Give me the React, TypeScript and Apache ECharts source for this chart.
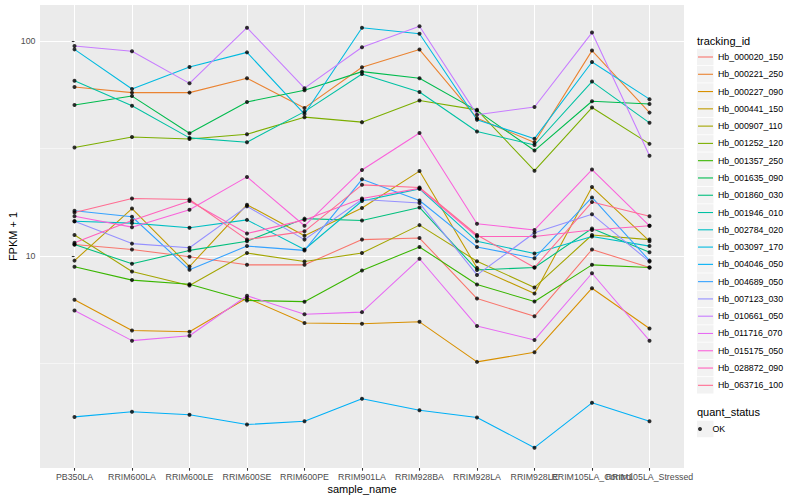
import React, { useEffect, useRef } from "react";
import * as echarts from "echarts";

const categories = [
  "PB350LA", "RRIM600LA", "RRIM600LE", "RRIM600SE", "RRIM600PE", "RRIM901LA",
  "RRIM928BA", "RRIM928LA", "RRIM928LE", "RRIM105LA_Control", "RRIM105LA_Stressed",
];

const trackingIds = [
  "Hb_000020_150", "Hb_000221_250", "Hb_000227_090", "Hb_000441_150", "Hb_000907_110",
  "Hb_001252_120", "Hb_001357_250", "Hb_001635_090", "Hb_001860_030", "Hb_001946_010",
  "Hb_002784_020", "Hb_003097_170", "Hb_004046_050", "Hb_004689_050", "Hb_007123_030",
  "Hb_010661_050", "Hb_011716_070", "Hb_015175_050", "Hb_028872_090", "Hb_063716_100",
];

const colors = [
  "#F8766D", "#EA8331", "#D89000", "#C09B00", "#A3A500", "#7CAE00", "#39B600", "#00BB4E",
  "#00BF7D", "#00C1A3", "#00BFC4", "#00BAE0", "#00B0F6", "#35A2FF", "#9590FF", "#C77CFF",
  "#E76BF3", "#FA62DB", "#FF62BC", "#FF6C91",
];

const Hb_000020_150 = [11.3, 10.7, 9.9, 9.08, 9.08, 11.9, 12.1, 6.33, 5.23, 10.7, 8.82];
const Hb_000221_250 = [61.1, 57.5, 57.5, 67.0, 48.8, 75.5, 91.2, 43.7, 33.7, 90.2, 46.4];
const Hb_000227_090 = [6.24, 4.49, 4.43, 6.37, 4.87, 4.83, 4.93, 3.21, 3.56, 7.07, 4.59];
const Hb_000441_150 = [9.5, 16.6, 8.92, 17.3, 12.4, 16.7, 24.8, 8.79, 6.68, 20.9, 11.7];
const Hb_000907_110 = [12.5, 8.46, 7.27, 10.3, 9.42, 10.3, 13.9, 9.44, 7.13, 12.5, 11.9];
const Hb_001252_120 = [31.9, 35.7, 35.0, 36.8, 44.2, 41.9, 52.8, 47.8, 24.9, 49.0, 33.2];
const Hb_001357_250 = [8.89, 7.71, 7.38, 6.2, 6.12, 8.55, 11.0, 7.35, 6.13, 9.08, 8.82];
const Hb_001635_090 = [50.4, 55.4, 37.2, 52.0, 59.0, 72.0, 67.0, 47.4, 30.9, 52.4, 50.9];
const Hb_001860_030 = [11.3, 9.18, 10.6, 11.7, 14.9, 14.6, 16.8, 8.6, 8.82, 13.4, 10.4];
const Hb_001946_010 = [65.3, 49.9, 35.4, 33.8, 46.9, 70.2, 57.9, 37.9, 32.8, 64.7, 41.6];
const Hb_002784_020 = [14.5, 14.2, 13.5, 14.7, 10.7, 18.0, 20.5, 11.7, 10.25, 12.3, 11.1];
const Hb_003097_170 = [91.4, 59.8, 75.7, 88.5, 45.7, 115.3, 108, 43.0, 35.1, 79.8, 53.6];
const Hb_004046_050 = [1.78, 1.88, 1.82, 1.64, 1.7, 2.16, 1.91, 1.77, 1.28, 2.07, 1.7];
const Hb_004689_050 = [16.2, 15.2, 8.61, 11.1, 10.6, 22.7, 18.1, 11.0, 9.75, 18.7, 9.5];
const Hb_007123_030 = [14.5, 11.4, 10.9, 17.0, 11.9, 18.3, 17.6, 8.15, 12.8, 15.6, 9.4];
const Hb_010661_050 = [94.8, 89.6, 63.5, 115.3, 60.3, 93.5, 117, 45.4, 49.3, 109.4, 29.2];
const Hb_011716_070 = [5.57, 4.03, 4.25, 6.52, 5.35, 5.47, 9.69, 4.71, 4.06, 8.3, 4.03];
const Hb_015175_050 = [15.3, 13.6, 16.4, 23.3, 13.8, 25.1, 37.3, 14.1, 13.2, 25.2, 13.8];
const Hb_028872_090 = [11.5, 14.6, 18.0, 12.7, 14.7, 18.5, 20.6, 12.3, 12.3, 13.2, 13.8];
const Hb_063716_100 = [15.9, 18.5, 18.3, 11.9, 13.0, 21.4, 20.8, 12.5, 8.82, 17.8, 15.3];

const seriesValues = [
  Hb_000020_150, Hb_000221_250, Hb_000227_090, Hb_000441_150, Hb_000907_110,
  Hb_001252_120, Hb_001357_250, Hb_001635_090, Hb_001860_030, Hb_001946_010,
  Hb_002784_020, Hb_003097_170, Hb_004046_050, Hb_004689_050, Hb_007123_030,
  Hb_010661_050, Hb_011716_070, Hb_015175_050, Hb_028872_090, Hb_063716_100,
];

const yMajorTicks = [10, 100];
const yMinorTicks = [3.1623, 31.623];
const quantStatus = ["OK"];

const FONT = "'Liberation Sans', Arial, Helvetica, sans-serif";

export default function App() {
  const ref = useRef<HTMLDivElement>(null);

  useEffect(() => {
    if (!ref.current) return;
    document.body.style.margin = "0";
    const chart = echarts.init(ref.current, null, { renderer: "svg" });
    const xTicks = categories.map((_, i) => i);
    // alternate label sets so that overlapping neighbour labels are both kept
    const xLabelsEven = xTicks.filter((i) => i % 2 === 0);
    const xLabelsOdd = xTicks.filter((i) => i % 2 === 1);
    const yMin = Math.pow(10, 0.0126);
    const yMax = Math.pow(10, 2.1674);

    const rowH = 17.28;
    const firstRow = 57;
    const keyRects: any[] = trackingIds.map((_, i) => ({
      type: "rect",
      shape: { x: 697, y: firstRow - rowH / 2 + i * rowH + 0.4, width: rowH - 0.8, height: rowH - 0.8 },
      style: { fill: "#F2F2F2" },
      z: 0,
    }));
    keyRects.push({
      type: "rect",
      shape: { x: 697, y: 429 - rowH / 2 + 0.4, width: rowH - 0.8, height: rowH - 0.8 },
      style: { fill: "#F2F2F2" },
      z: 0,
    });

    const lineSeries = trackingIds.map((name, k) => ({
      type: "line",
      name,
      xAxisIndex: 0,
      yAxisIndex: 0,
      data: seriesValues[k].map((v, i) => [i, v]),
      showSymbol: false,
      symbol: "none",
      lineStyle: { color: colors[k], width: 1.07 },
      itemStyle: { color: colors[k] },
      z: 2,
    }));

    const pointData: any[] = [];
    seriesValues.forEach((vals) => vals.forEach((v, i) => pointData.push([i, v])));

    const labelStyle = {
      formatter: (v: number) => categories[Math.round(v)] ?? "",
      fontSize: 8.8, color: "#4D4D4D", margin: 4.5, fontFamily: FONT,
      hideOverlap: false, showMinLabel: true, showMaxLabel: true,
    };

    chart.setOption({
      animation: false,
      grid: {
        left: 40, right: 116, top: 5, bottom: 32,
        show: true, backgroundColor: "#EBEBEB", borderWidth: 0,
        containLabel: false, outerBoundsMode: "none",
      },
      xAxis: [
        {
          type: "value",
          min: -0.6,
          max: 10.6,
          position: "bottom",
          name: "sample_name",
          nameLocation: "middle",
          nameGap: 15,
          nameMoveOverlap: false,
          nameTextStyle: { fontSize: 11, color: "#000", fontFamily: FONT },
          axisLine: { show: false },
          axisTick: { show: true, length: 2.7, customValues: xTicks, lineStyle: { color: "#333333", width: 1.07 } },
          axisLabel: { ...labelStyle, customValues: xLabelsEven },
          splitLine: { show: true, lineStyle: { color: "#FFFFFF", width: 1.07 } },
        },
        {
          type: "value",
          min: -0.6,
          max: 10.6,
          position: "bottom",
          offset: 0,
          axisLine: { show: false },
          axisTick: { show: false, customValues: xLabelsOdd },
          axisLabel: { ...labelStyle, customValues: xLabelsOdd },
          splitLine: { show: false },
        },
      ],
      yAxis: [
        {
          type: "log",
          logBase: 10,
          min: yMin,
          max: yMax,
          name: "FPKM + 1",
          nameLocation: "middle",
          nameGap: 22,
          nameMoveOverlap: false,
          nameTextStyle: { fontSize: 11, color: "#000", fontFamily: FONT },
          axisLine: { show: false },
          axisTick: { show: true, length: 2.7, customValues: yMajorTicks, lineStyle: { color: "#333333", width: 1.07 } },
          axisLabel: { customValues: yMajorTicks, fontSize: 8.8, color: "#4D4D4D", margin: 4.5, fontFamily: FONT, showMinLabel: true, showMaxLabel: true },
          splitLine: { show: true, lineStyle: { color: "#FFFFFF", width: 1.07 } },
        },
        {
          type: "log",
          logBase: 10,
          min: yMin,
          max: yMax,
          position: "left",
          axisLine: { show: false },
          axisTick: { show: false, customValues: yMinorTicks },
          axisLabel: { show: false, customValues: yMinorTicks },
          splitLine: { show: true, lineStyle: { color: "#FFFFFF", width: 0.53 } },
        },
      ],
      legend: [
        {
          data: trackingIds.map((n, i) => ({ name: n, itemStyle: { color: colors[i] } })),
          orient: "vertical",
          left: 698,
          top: firstRow - rowH / 2,
          padding: 0,
          itemGap: 0,
          itemWidth: 15,
          itemHeight: 1.1,
          icon: "rect",
          selectedMode: false,
          textStyle: { fontSize: 8.8, color: "#000", lineHeight: rowH, fontFamily: FONT },
        },
        {
          data: quantStatus,
          orient: "vertical",
          left: 698,
          top: 429 - rowH / 2,
          padding: 0,
          itemGap: 0,
          itemWidth: 15,
          itemHeight: 4,
          icon: "circle",
          selectedMode: false,
          textStyle: { fontSize: 8.8, color: "#000", lineHeight: rowH, fontFamily: FONT },
        },
      ],
      graphic: [
        ...keyRects,
        {
          type: "text",
          x: 697, y: 40.7,
          style: { text: "tracking_id", fontSize: 11, fill: "#000", fontFamily: FONT, verticalAlign: "middle", align: "left" },
        },
        {
          type: "text",
          x: 697, y: 411.7,
          style: { text: "quant_status", fontSize: 11, fill: "#000", fontFamily: FONT, verticalAlign: "middle", align: "left" },
        },
      ],
      series: [
        ...lineSeries,
        {
          type: "scatter",
          name: "OK",
          xAxisIndex: 0,
          yAxisIndex: 0,
          data: pointData,
          symbol: "circle",
          symbolSize: 4,
          itemStyle: { color: "#000000" },
          z: 3,
        },
      ],
    });
    return () => chart.dispose();
  }, []);

  return <div ref={ref} style={{ width: 800, height: 500, position: "absolute", left: 0, top: 0 }} />;
}
